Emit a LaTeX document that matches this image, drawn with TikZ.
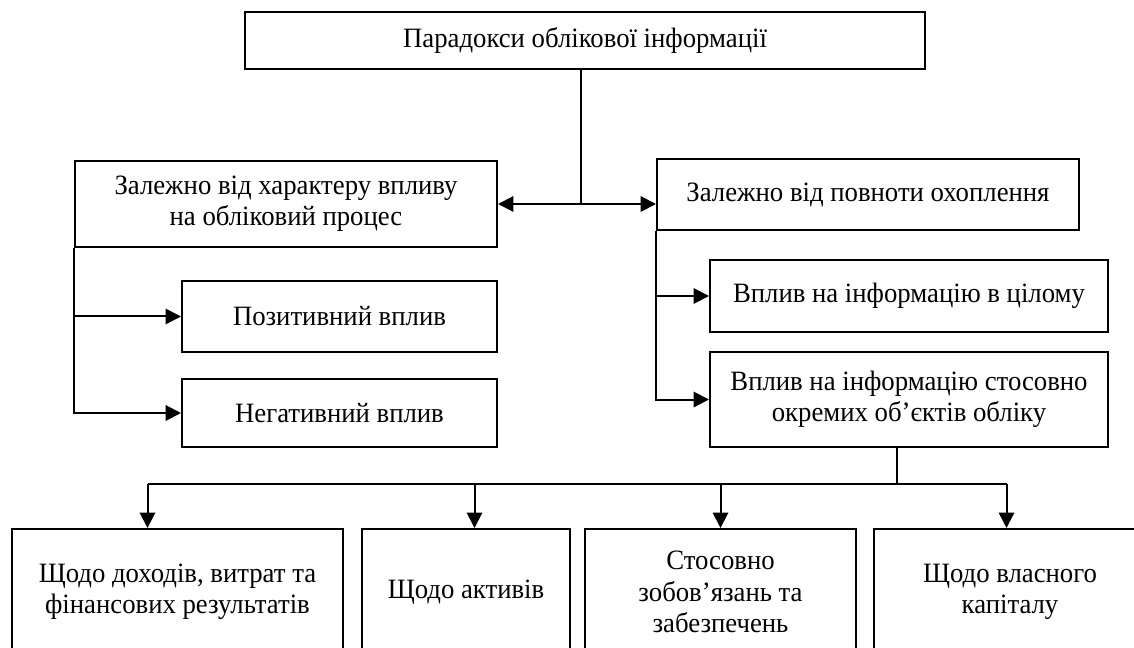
\documentclass[tikz,border=0pt]{standalone}
\usepackage{fontspec}
\setmainfont[FakeStretch=0.955]{Liberation Serif}
\usetikzlibrary{arrows.meta,calc}
\begin{document}
\begin{tikzpicture}[x=0.75pt,y=-0.75pt,
 box/.style={draw,line width=1.5pt,align=center,inner sep=0pt,font=\fontsize{21}{23.5}\selectfont},
 conn/.style={line width=1.5pt},
 tip/.tip={Triangle[length=11.5pt,width=11.5pt]},
 arr/.style={conn,-tip},
]
\useasboundingbox (0,0) rectangle (1134,648);
\clip (0,0) rectangle (1134,648);
\node[box,minimum width=510pt,minimum height=42.75pt] (top) at (585,40.5) {Парадокси облікової інформації};
\node[box,minimum width=316.5pt,minimum height=64.5pt] (L1) at (286,204) {Залежно від характеру впливу\\на обліковий процес};
\node[box,minimum width=316.5pt,minimum height=53.25pt] (R1) at (868,194.5) {Залежно від повноти охоплення};
\node[box,minimum width=236.25pt,minimum height=53.25pt] (pos) at (339.5,316.5) {Позитивний вплив};
\node[box,minimum width=236.25pt,minimum height=51pt] (neg) at (339.5,413) {Негативний вплив};
\node[box,minimum width=298.5pt,minimum height=54pt] (R2) at (909,296) {Вплив на інформацію в цілому};
\node[box,minimum width=298.5pt,minimum height=71.25pt] (R3) at (909,399.5) {Вплив на інформацію стосовно\\окремих об’єктів обліку};
\node[box,minimum width=248.25pt,minimum height=94.5pt] (B1) at (177.5,592) {Щодо доходів, витрат та\\фінансових результатів};
\node[box,minimum width=156pt,minimum height=94.5pt] (B2) at (466,592) {Щодо активів};
\node[box,minimum width=203.25pt,minimum height=94.5pt] (B3) at (720.5,592) {Стосовно\\зобов’язань та\\забезпечень};
\node[box,minimum width=204.75pt,minimum height=94.5pt] (B4) at (1010,592) {Щодо власного\\капіталу};

\coordinate (j) at (581,204);
\draw[line width=1.2pt] (top.south -| j) -- (j);
\draw[conn,tip-tip] (L1.east |- j) -- (R1.west |- j);

\draw[arr] (L1.south west) |- (neg.west);
\draw[arr] (L1.south west |- pos.west) -- (pos.west);

\draw[arr] (R1.south west) |- (R3.west);
\draw[arr] (R1.south west |- R2.west) -- (R2.west);

\coordinate (bus) at (897,484);
\coordinate (a1) at (147.5,484);
\coordinate (a2) at (474.5,484);
\coordinate (a3) at (720.5,484);
\coordinate (a4) at (1006.5,484);
\draw[conn] (R3.south -| bus) -- (bus);
\draw[conn] (a1) -- (a4);
\draw[arr] (a1) -- (a1 |- B1.north);
\draw[arr] (a2) -- (a2 |- B2.north);
\draw[arr] (a3) -- (a3 |- B3.north);
\draw[arr] (a4) -- (a4 |- B4.north);
\end{tikzpicture}
\end{document}
